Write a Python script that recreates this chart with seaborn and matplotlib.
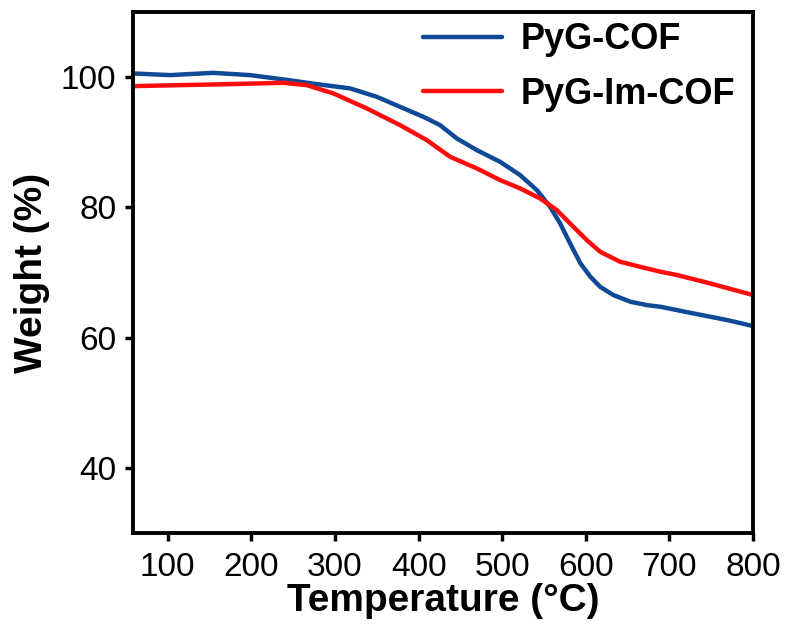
import matplotlib
matplotlib.use("Agg")
import matplotlib.pyplot as plt
import seaborn as sns
import pandas as pd

# Data
pyg_temp = [58.5, 102.8, 154.2, 198.4, 238.3, 278.2, 318.1, 350.0, 377.9, 405.7, 425.7,
            445.7, 469.6, 485.5, 497.5, 521.4, 541.4, 557.3, 569.3, 581.2, 593.6, 605.5,
            617.1, 633.0, 653.4, 673.0, 689.3, 728.3, 769.0, 800.0]
pyg_weight = [100.57, 100.31, 100.66, 100.31, 99.65, 98.93, 98.27, 96.98, 95.44, 93.91, 92.63,
              90.59, 88.80, 87.77, 87.00, 84.96, 82.66, 80.09, 77.54, 74.47, 71.40, 69.35,
              67.81, 66.54, 65.51, 65.00, 64.74, 63.73, 62.70, 61.78]

pygim_temp = [58.5, 174.5, 238.3, 266.3, 298.1, 338.0, 377.9, 409.8, 437.7, 469.6, 497.5,
              521.4, 545.3, 565.3, 585.2, 601.2, 617.1, 641.1, 665.0, 689.3, 709.2, 748.7, 800.0]
pygim_weight = [98.62, 98.93, 99.13, 98.77, 97.50, 95.20, 92.63, 90.33, 87.77, 85.99, 84.19,
                82.92, 81.38, 79.59, 77.02, 74.98, 73.19, 71.65, 70.88, 70.12, 69.61, 68.33, 66.54]

series_names = ["PyG-COF", "PyG-Im-COF"]
series_colors = ["#0f4a96", "#ff0d0d"]
x_ticks = [100, 200, 300, 400, 500, 600, 700, 800]
y_ticks = [40, 60, 80, 100]

df = pd.concat([
    pd.DataFrame({"Temperature": pyg_temp, "Weight": pyg_weight, "Sample": series_names[0]}),
    pd.DataFrame({"Temperature": pygim_temp, "Weight": pygim_weight, "Sample": series_names[1]}),
], ignore_index=True)

sns.set_style("white")
plt.rcParams["font.family"] = ["Liberation Sans", "DejaVu Sans"]
plt.rcParams["text.color"] = "black"
plt.rcParams["axes.labelcolor"] = "black"
plt.rcParams["xtick.color"] = "black"
plt.rcParams["ytick.color"] = "black"

fig = plt.figure(figsize=(7.9, 6.32), dpi=100)
ax = fig.add_axes([0.1684, 0.1566, 0.9532 - 0.1684, 0.981 - 0.1566])

sns.lineplot(data=df, x="Temperature", y="Weight", hue="Sample",
             palette=dict(zip(series_names, series_colors)),
             linewidth=3.2, sort=False, ax=ax)
for ln in ax.get_lines():
    ln.set_solid_joinstyle("round")
    ln.set_solid_capstyle("round")

ax.set_xlim(58.5, 800)
ax.set_ylim(30, 110)
ax.set_xticks(x_ticks)
ax.set_yticks(y_ticks)
ax.tick_params(axis="both", which="major", direction="out", length=6, width=2.5,
               labelsize=24, pad=6, bottom=True, left=True, top=False, right=False,
               colors="black")
ax.tick_params(axis="x", pad=8)
for sp in ax.spines.values():
    sp.set_linewidth(2.8)
    sp.set_color("black")

ax.set_xlabel("Temperature (°C)", fontsize=28, fontweight="bold", labelpad=0)
ax.set_ylabel("Weight (%)", fontsize=28, fontweight="bold", labelpad=8)

leg = ax.legend(loc="upper right", frameon=False,
                prop={"weight": "bold", "size": 26},
                handlelength=2.2, handletextpad=0.5, labelspacing=0.55,
                borderaxespad=0.1, bbox_to_anchor=(1.0, 1.015))
for line in leg.get_lines():
    line.set_linewidth(3.2)
for t in leg.get_texts():
    t.set_color("black")

fig.savefig("out.png", dpi=100)
